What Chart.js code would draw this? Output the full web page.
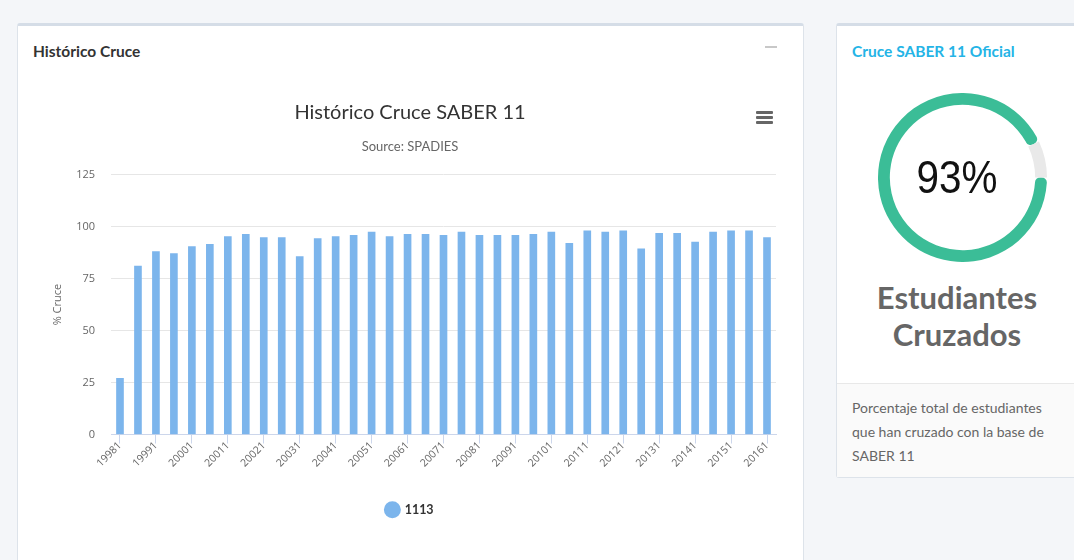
<!DOCTYPE html>
<html>
<head>
<meta charset="utf-8">
<script src="https://cdn.jsdelivr.net/npm/chart.js@4.4.1/dist/chart.umd.min.js"></script>
<style>
  html, body { margin: 0; padding: 0; }
  body { width: 1074px; height: 560px; background: #f4f6f9; position: relative; overflow: hidden; font-family: Lato, "Open Sans", sans-serif; }
  .card { position: absolute; background: #fff; border: 1px solid #dde3ea; border-top: 3px solid #d5dde7; border-radius: 3px; box-sizing: border-box; }
  #left { left: 17px; top: 23px; width: 787px; height: 560px; }
  #right { left: 836px; top: 23px; width: 260px; height: 455px; }
  .hdr { position: absolute; font-size: 15.5px; font-weight: bold; color: #333; }
  .minus { position: absolute; left: 765px; top: 46px; width: 12px; height: 2px; background: #c8c8c8; }
  .burger { position: absolute; left: 756px; top: 111px; width: 17px; }
  .burger div { height: 3px; background: #666; margin-bottom: 2px; border-radius: 1px; }
  #bars { position: absolute; left: 30px; top: 90px; }
  #gauge { position: absolute; left: 878px; top: 93px; width: 159px; height: 169px; }
  .pct { position: absolute; left: 877px; top: 150px; width: 160px; text-align: center; font-family: "Liberation Sans", Arial, sans-serif; font-size: 47px; color: #111; line-height: 54px; transform: scaleX(0.86); }
  .big { position: absolute; left: 836px; top: 279px; width: 242px; text-align: center; font-size: 31px; font-weight: bold; color: #666; line-height: 37px; }
  .foot { position: absolute; left: 837px; top: 383px; width: 240px; height: 93px; background: #fafafa; border-top: 1px solid #e8e8e8; }
  .foot p { margin: 0; position: absolute; left: 15px; top: 12px; font-size: 14px; line-height: 24px; color: #666; }
</style>
</head>
<body>
<div class="card" id="left"></div>
<div class="card" id="right"></div>
<div class="hdr" style="left:33px;top:42px;">Histórico Cruce</div>
<div class="minus"></div>
<div class="burger"><div></div><div></div><div></div></div>
<canvas id="bars" width="760" height="450"></canvas>

<div class="hdr" style="left:852px;top:42px;color:#24b4e6;">Cruce SABER 11 Oficial</div>
<canvas id="gauge" width="169" height="169"></canvas>
<div class="pct">93%</div>
<div class="big">Estudiantes<br>Cruzados</div>
<div class="foot"><p>Porcentaje total de estudiantes<br>que han cruzado con la base de<br>SABER 11</p></div>

<script>
const categories = ['19981','19982','19991','19992','20001','20002','20011','20012','20021','20022',
  '20031','20032','20041','20042','20051','20052','20061','20062','20071','20072',
  '20081','20082','20091','20092','20101','20102','20111','20112','20121','20122',
  '20131','20132','20141','20142','20151','20152','20161'];
const cruce1113 = [27, 81, 88, 87, 90.4, 91.5, 95.2, 96.3, 94.7, 94.7,
  85.6, 94.2, 95.2, 95.8, 97.3, 95.2, 96.3, 96.3, 95.8, 97.4,
  95.8, 95.8, 95.8, 96.3, 97.4, 92, 97.9, 97.4, 97.9, 89.3,
  96.8, 96.8, 92.5, 97.4, 97.9, 97.9, 94.7];
const yTicks = [0, 25, 50, 75, 100, 125];
const gaugeValues = [93, 7];

new Chart(document.getElementById('bars'), {
  type: 'bar',
  data: {
    labels: categories,
    datasets: [{ label: '1113', data: cruce1113, backgroundColor: '#7cb5ec', borderWidth: 0, barThickness: 7 }]
  },
  options: {
    responsive: false, animation: false,
    layout: { padding: { left: 14, right: 14, top: 0, bottom: 14 } },
    plugins: {
      title: { display: true, text: 'Histórico Cruce SABER 11', color: '#333', font: { family: 'Lato', size: 20, weight: 'normal' }, padding: { top: 11, bottom: 14 } },
      subtitle: { display: true, text: 'Source: SPADIES', color: '#666', font: { family: 'Lato', size: 13 }, padding: { top: 0, bottom: 20 } },
      legend: { position: 'bottom', labels: { usePointStyle: true, pointStyle: 'circle', boxWidth: 12, boxHeight: 12, color: '#333', font: { family: 'Lato', size: 12.5, weight: 'bold' }, padding: 21 } },
      tooltip: { enabled: false }
    },
    scales: {
      x: {
        afterFit: s => { s.paddingLeft = 0; s.height = 48; },
        grid: { drawOnChartArea: false, offset: false, tickLength: 9, color: ctx => ctx.index % 2 ? 'rgba(0,0,0,0)' : '#ccd6eb' },
        border: { color: '#ccd6eb' },
        ticks: { autoSkip: false, maxRotation: 45, minRotation: 45, padding: -4, color: '#666', font: { family: 'Open Sans', size: 10.5 },
          callback: (v, i) => i % 2 ? '' : categories[i] }
      },
      y: {
        min: 0, max: 125,
        afterBuildTicks: axis => { axis.ticks = yTicks.map(v => ({ value: v })); },
        afterFit: s => { s.width = 67; },
        grid: { color: '#e6e6e6', drawTicks: false },
        border: { display: false },
        ticks: { color: '#666', font: { family: 'Open Sans', size: 11 }, padding: 16 },
        title: { display: true, text: '% Cruce', color: '#666', font: { family: 'Open Sans', size: 11 }, padding: 7 }
      }
    }
  }
});

new Chart(document.getElementById('gauge'), {
  type: 'doughnut',
  data: { labels: ['Cruzados', 'Resto'], datasets: [{ data: gaugeValues, backgroundColor: ['#3bbd97', '#e9e9e9'], borderWidth: 0, borderRadius: [5, 0] }] },
  options: {
    responsive: false, animation: false, rotation: 90, cutout: '86%',
    plugins: { legend: { display: false }, tooltip: { enabled: false } }
  }
});
</script>
</body>
</html>
